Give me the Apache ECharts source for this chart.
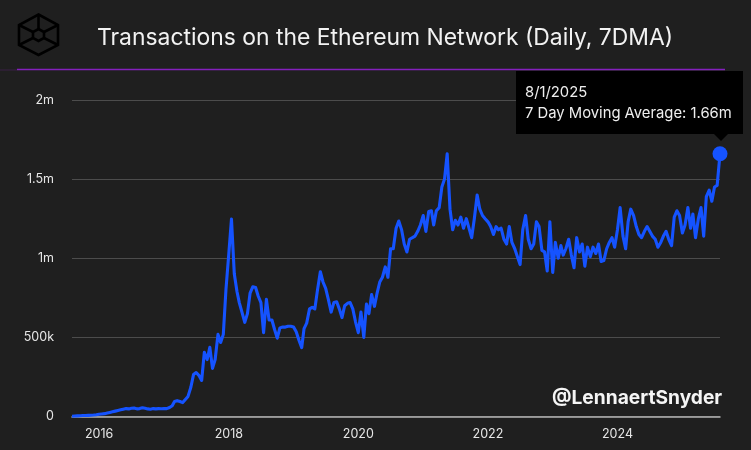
<!DOCTYPE html>
<html>
<head>
<meta charset="utf-8">
<style>
  html, body { margin: 0; padding: 0; background: #1f1f1f; }
  #chart { width: 751px; height: 450px; }
</style>
<script src="https://cdn.jsdelivr.net/npm/echarts@6/dist/echarts.min.js"></script>
</head>
<body>
<div id="chart"></div>
<script>
// daily transactions 7DMA in thousands, two readings a month (1st and 16th)
const startYear = 2015;
const startMonth = 7; // august, zero based
const tx2015 = [2, 3, 4, 5, 6, 6, 7, 8, 9, 11];
const tx2016 = [14, 16, 18, 22, 26, 30, 34, 38, 42, 46, 50, 48, 52, 54, 48, 50, 55, 52, 48, 46, 50, 48, 50, 49];
const tx2017 = [50, 50, 57, 68, 95, 100, 95, 88, 108, 127, 185, 265, 278, 260, 228, 405, 360, 437, 304, 360, 519, 468, 519, 804];
const tx2018 = [1030, 1247, 900, 790, 720, 660, 595, 650, 780, 820, 815, 760, 720, 530, 740, 610, 610, 550, 495, 560, 565, 565, 570, 570];
const tx2019 = [565, 535, 480, 435, 555, 590, 680, 690, 680, 800, 915, 850, 810, 740, 660, 720, 725, 680, 625, 700, 715, 720, 680, 600];
const tx2020 = [530, 660, 500, 710, 650, 770, 696, 780, 850, 880, 945, 880, 1060, 1060, 1190, 1235, 1180, 1090, 1040, 1120, 1130, 1140, 1170, 1210];
const tx2021 = [1270, 1170, 1295, 1300, 1210, 1300, 1320, 1450, 1500, 1660, 1310, 1180, 1240, 1210, 1260, 1190, 1250, 1190, 1130, 1250, 1400, 1310, 1270, 1250];
const tx2022 = [1230, 1200, 1150, 1200, 1180, 1190, 1120, 1090, 1200, 1100, 1060, 1010, 960, 1180, 1270, 1120, 1060, 1090, 1230, 1200, 1050, 1040, 920, 1230];
const tx2023 = [910, 1100, 1000, 1080, 1020, 1060, 1120, 1020, 940, 1130, 1040, 1090, 950, 1070, 1010, 1070, 1030, 1090, 980, 985, 1060, 1100, 1130, 1070];
const tx2024 = [1180, 1320, 1140, 1060, 1230, 1310, 1270, 1200, 1150, 1130, 1170, 1200, 1170, 1140, 1120, 1070, 1100, 1140, 1170, 1120, 1080, 1260, 1300, 1270];
const tx2025 = [1160, 1210, 1320, 1190, 1280, 1130, 1250, 1320, 1140, 1390, 1430, 1360, 1450, 1460, 1660];
const title = "Transactions on the Ethereum Network (Daily, 7DMA)";
const seriesName = "7 Day Moving Average";
const lastDateLabel = "8/1/2025";
const watermark = "@LennaertSnyder";

const values = [].concat(tx2015, tx2016, tx2017, tx2018, tx2019, tx2020, tx2021, tx2022, tx2023, tx2024, tx2025);

let data = values.map(function(v, i) {
  let month = startMonth + Math.floor(i / 2);
  let day = i % 2 === 0 ? 1 : 16;
  return [new Date(startYear, month, day).getTime(), v];
});
let last = data[data.length - 1];

function yLabel(v) {
  if (v === 0) return "0";
  if (v < 1000) return v + "k";
  return v / 1000 + "m";
}

// only even years get a label
function xLabel(v) {
  let d = new Date(v);
  if (d.getMonth() !== 0 || d.getDate() !== 1) return "";
  return d.getFullYear() % 2 === 0 ? String(d.getFullYear()) : "";
}

const blue = "#1553ff";
const logoLine = { stroke: "#000", lineWidth: 2.6, fill: "none" };

function logoPart(shape, type) {
  return { type: type || "polyline", shape: shape, style: logoLine, z: 10 };
}

var myChart = echarts.init(document.getElementById("chart"));
myChart.setOption({
  animation: false,
  backgroundColor: "#1f1f1f",
  textStyle: { fontFamily: "Inter" },
  title: {
    text: title,
    left: 92,
    top: 22,
    textStyle: { color: "#f2f2f2", fontSize: 22.9, fontWeight: "normal", fontFamily: "Inter" }
  },
  grid: { left: 72, right: 31, top: 100, bottom: 33.5 },
  xAxis: {
    type: "time",
    min: data[0][0],
    max: last[0],
    splitNumber: 10,
    axisLine: { show: true, lineStyle: { color: "#b5b5b5", width: 1.5 } },
    axisTick: { show: false },
    splitLine: { show: false },
    axisLabel: {
      color: "#e6e6e6",
      fontSize: 12.5,
      margin: 11,
      interval: 0,
      hideOverlap: false,
      formatter: xLabel
    }
  },
  yAxis: {
    type: "value",
    min: 0,
    max: 2000,
    interval: 500,
    axisLine: { show: false },
    axisTick: { show: false },
    splitLine: { lineStyle: { color: "#4c4c4c", width: 1 } },
    axisLabel: {
      color: "#e6e6e6",
      fontSize: 12.5,
      margin: 18,
      formatter: yLabel
    }
  },
  series: [
    {
      name: seriesName,
      type: "line",
      data: data,
      showSymbol: false,
      smooth: false,
      lineStyle: { color: blue, width: 3.1, join: "round" },
      z: 3
    },
    {
      // the hovered point at the end of the line
      type: "scatter",
      data: [last],
      symbolSize: 15,
      itemStyle: { color: blue, opacity: 1 },
      z: 4
    }
  ],
  graphic: [
    // header rule
    { type: "line", shape: { x1: 0, y1: 70, x2: 17, y2: 70 }, style: { stroke: "#3a2146", lineWidth: 1 } },
    { type: "line", shape: { x1: 17, y1: 69.5, x2: 725, y2: 69.5 }, style: { stroke: "#8420bd", lineWidth: 1.5 } },
    // logo
    logoPart({ points: [[38.5, 14.5], [58, 25], [58, 45], [38.5, 55], [19, 45], [19, 25]] }, "polygon"),
    logoPart({ points: [[38.5, 29], [44, 32], [44, 38], [38.5, 41], [33, 38], [33, 32]] }, "polygon"),
    logoPart({ points: [[19, 25], [33, 32]] }),
    logoPart({ points: [[58, 25], [44, 32]] }),
    logoPart({ points: [[19, 45], [33, 38]] }),
    logoPart({ points: [[58, 45], [44, 38]] }),
    logoPart({ points: [[38.5, 14.5], [38.5, 29]] }),
    // tooltip box
    { type: "rect", shape: { x: 516, y: 71, width: 227, height: 63 }, style: { fill: "#000" }, z: 20 },
    { type: "polygon", shape: { points: [[714, 134], [728, 134], [721, 141]] }, style: { fill: "#000" }, z: 20 },
    {
      type: "text", x: 525, y: 85, z: 21,
      style: { text: lastDateLabel, fill: "#eeeeee", fontSize: 14.8, fontFamily: "Inter" }
    },
    {
      type: "text", x: 525, y: 106, z: 21,
      style: { text: seriesName + ": " + (last[1] / 1000).toFixed(2) + "m", fill: "#eeeeee", fontSize: 14.8, fontFamily: "Inter" }
    },
    // watermark
    {
      type: "text", x: 552, y: 389, z: 21,
      style: { text: watermark, fill: "#f5f5f5", fontSize: 19.2, fontWeight: "bold", fontFamily: "Inter" }
    }
  ]
});
</script>
</body>
</html>
